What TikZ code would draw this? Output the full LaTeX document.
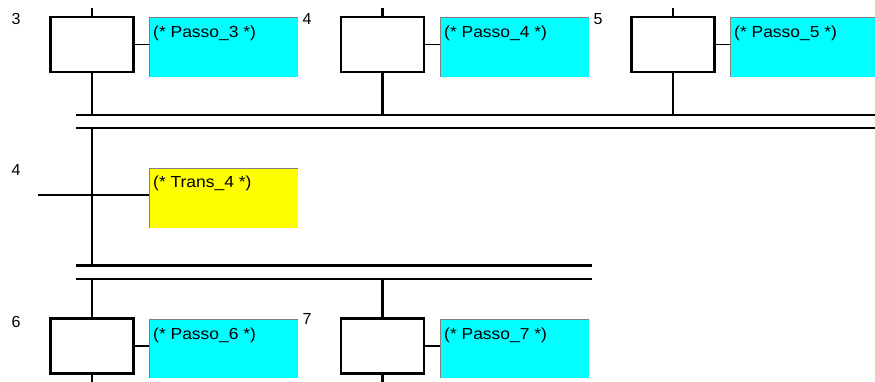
\documentclass[tikz,border=0pt]{standalone}
\usepackage{fontspec}
\setmainfont{Liberation Sans}
\newfontfamily\boxfont[FakeStretch=1.09]{Liberation Sans}
\definecolor{actcyan}{RGB}{0,255,255}
\definecolor{transyellow}{RGB}{255,255,0}
\definecolor{edgegray}{RGB}{128,128,128}
\begin{document}
\begin{tikzpicture}[x=1pt,y=-1pt,
  stepbox/.style={draw=black, line width=2.2pt, fill=white, minimum width=83pt,
    minimum height=55pt, inner sep=0pt, outer sep=0pt},
  actbox/.style={fill=actcyan, minimum width=149pt, minimum height=60pt,
    inner sep=0pt, outer sep=0pt},
  transbox/.style={actbox, fill=transyellow},
  boxtext/.style={anchor=base west, inner sep=0pt, font=\boxfont\fontsize{16}{18}\selectfont},
  numtext/.style={inner sep=0pt, font=\fontsize{16}{18}\selectfont},
  flow/.style={line width=2.2pt},
  thin link/.style={line width=1.2pt},
  bar/.style={line width=2.2pt}]

\useasboundingbox (0,0) rectangle (875,382);

% --- steps of the upper row
\node[stepbox] (s3) at (92,44.5) {};
\node[stepbox] (s4) at (382.5,44.5) {};
\node[stepbox] (s5) at (673,44.5) {};
\node[actbox] (a3) at (223.5,47) {};
\node[actbox] (a4) at (514.5,47) {};
\node[actbox] (a5) at (804.5,47) {};

% --- transition
\node[transbox] (t4) at (223.5,198) {};

% --- steps of the lower row
\node[stepbox] (s6) at (92,346) {};
\node[stepbox] (s7) at (382.5,346) {};
\node[actbox, minimum height=59pt] (a6) at (223.5,348.5) {};
\node[actbox, minimum height=59pt] (a7) at (514.5,348.5) {};

% gray edge on the left and top of the comment boxes
\foreach \b in {a3,a4,a5,t4,a6,a7}
  \draw[edgegray, line width=0.8pt] (\b.south west) -- (\b.north west) -- (\b.north east);

% --- texts in the boxes
\node[boxtext] (a3t) at ([xshift=4pt,yshift=-21pt]a3.north west) {(* Passo\_3 *)};
\node[boxtext] (a4t) at ([xshift=4pt,yshift=-21pt]a4.north west) {(* Passo\_4 *)};
\node[boxtext] (a5t) at ([xshift=4pt,yshift=-21pt]a5.north west) {(* Passo\_5 *)};
\node[boxtext] (t4t) at ([xshift=4pt,yshift=-20pt]t4.north west) {(* Trans\_4 *)};
\node[boxtext] (a6t) at ([xshift=4pt,yshift=-20pt]a6.north west) {(* Passo\_6 *)};
\node[boxtext] (a7t) at ([xshift=4pt,yshift=-20pt]a7.north west) {(* Passo\_7 *)};

% --- step and transition numbers
\node[numtext] (n3) at (16,19) {3};
\node[numtext] (n4) at (307,19) {4};
\node[numtext] (n5) at (598,19) {5};
\node[numtext] (nt4) at (16,170) {4};
\node[numtext] (n6) at (16,322) {6};
\node[numtext] (n7) at (307,319) {7};

% --- simultaneous divergence and convergence bars
\coordinate (u1a) at (76,115);  \coordinate (u1b) at (875,115);
\coordinate (u2a) at (76,128);  \coordinate (u2b) at (875,128);
\coordinate (l1a) at (76,265.5); \coordinate (l1b) at (592,265.5);
\coordinate (l2a) at (76,279);  \coordinate (l2b) at (592,279);
\draw[bar] (u1a) -- (u1b);
\draw[bar] (u2a) -- (u2b);
\draw[bar] (l1a) -- (l1b);
\draw[bar] (l2a) -- (l2b);

% --- flow lines of the upper steps
\foreach \s in {s3,s4,s5} {
  \draw[flow] (\s.north) -- ++(0,-9);
  \draw[flow] (\s.south) -- (\s.south |- u1a);
}
\draw[thin link] (s3.east) -- (a3.west |- s3.east);
\draw[thin link] (s4.east) -- (a4.west |- s4.east);
\draw[thin link] (s5.east) -- (a5.west |- s5.east);

% --- flow line through the transition
\draw[flow] (u2a -| s3.south) -- (l1a -| s3.south);
\coordinate (tin) at (38,195);
\draw[thin link] (tin) -- (t4.west |- tin);

% --- flow lines of the lower steps
\foreach \s in {s6,s7} {
  \draw[flow] (l2a -| \s.north) -- (\s.north);
  \draw[flow] (\s.south) -- ++(0,12);
}
\draw[thin link] (s6.east) -- (a6.west |- s6.east);
\draw[thin link] (s7.east) -- (a7.west |- s7.east);
\end{tikzpicture}
\end{document}
